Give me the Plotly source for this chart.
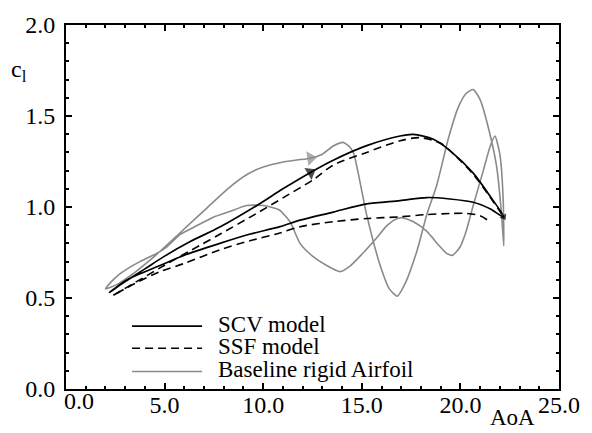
import plotly.graph_objects as go

# SCV model: upstroke (upper branch) and downstroke (lower branch)
scv_up_aoa = [2.2, 3.0, 4.0, 5.0, 6.3, 7.8, 9.7, 11.0, 12.4, 13.55, 15.25, 16.94, 17.6, 18.63, 19.47, 20.65, 21.5, 22.2]
scv_up_cl = [0.53, 0.59, 0.66, 0.73, 0.81, 0.89, 1.01, 1.10, 1.19, 1.257, 1.337, 1.39, 1.399, 1.372, 1.31, 1.186, 1.06, 0.945]
scv_dn_aoa = [22.2, 21.5, 20.65, 19.47, 18.3, 16.94, 15.25, 13.55, 11.87, 10.85, 9.3, 7.8, 6.0, 4.8, 3.1, 2.2]
scv_dn_cl = [0.945, 0.99, 1.026, 1.044, 1.052, 1.035, 1.017, 0.972, 0.928, 0.892, 0.85, 0.80, 0.735, 0.68, 0.60, 0.53]

# SSF model
ssf_up_aoa = [2.4, 3.5, 5.0, 6.8, 7.8, 9.67, 11.0, 12.54, 13.55, 15.25, 16.94, 17.95, 19.0, 19.8, 20.65, 21.5, 22.2]
ssf_up_cl = [0.515, 0.585, 0.68, 0.79, 0.85, 0.965, 1.05, 1.15, 1.23, 1.30, 1.364, 1.381, 1.35, 1.275, 1.18, 1.055, 0.945]
ssf_dn_aoa = [21.35, 21.0, 20.3, 19.47, 18.2, 16.94, 15.25, 13.55, 11.87, 10.85, 9.33, 7.8, 6.0, 4.77, 3.5, 2.4]
ssf_dn_cl = [0.93, 0.952, 0.965, 0.964, 0.958, 0.946, 0.937, 0.919, 0.892, 0.857, 0.815, 0.765, 0.69, 0.645, 0.58, 0.515]

# Baseline rigid airfoil: one full pitching cycle
base_aoa = [2.0, 2.6, 3.3, 4.0, 4.6, 5.8, 7.1, 8.2, 9.2, 10.0, 10.9, 11.7, 12.4, 13.0, 13.55, 14.05, 14.4, 14.6,
            15.25, 15.9, 16.4, 16.8, 17.2, 17.8, 18.3, 18.8, 19.4, 19.9, 20.3, 20.65, 21.0, 21.5, 21.84, 22.09, 22.2,
            22.17, 22.0, 21.75, 21.5, 21.16, 20.65, 20.3, 19.98, 19.6, 19.3, 18.9, 18.3, 17.6, 17.1, 16.8, 16.3,
            15.75, 15.0, 14.4, 13.9, 13.2, 12.5, 11.87, 11.36, 10.8, 10.0, 9.16, 8.3, 7.47, 6.5, 5.8, 5.1, 4.6,
            3.75, 3.25, 2.7, 2.3, 2.0]
base_cl = [0.55, 0.575, 0.625, 0.685, 0.74, 0.86, 0.99, 1.10, 1.18, 1.22, 1.245, 1.258, 1.268, 1.29, 1.335, 1.355, 1.328, 1.29,
           0.955, 0.69, 0.55, 0.51, 0.58, 0.76, 0.96, 1.12, 1.38, 1.55, 1.625, 1.645, 1.59, 1.40, 1.22, 0.955, 0.786,
           1.04, 1.29, 1.39, 1.33, 1.20, 1.008, 0.87, 0.78, 0.735, 0.745, 0.79, 0.866, 0.92, 0.94, 0.937, 0.90,
           0.83, 0.74, 0.675, 0.645, 0.68, 0.73, 0.80, 0.919, 0.985, 1.008, 1.008, 0.975, 0.944, 0.89, 0.85, 0.78, 0.745,
           0.70, 0.67, 0.63, 0.59, 0.55]

legend_labels = ["SCV model", "SSF model", "Baseline rigid Airfoil"]
x_tick_vals = [5, 10, 15, 20, 25]
y_tick_vals = [0.0, 0.5, 1.0, 1.5, 2.0]

BLACK = "#000000"
GRAY = "#8a8a8a"
FONT = "Liberation Serif"

fig = go.Figure()

# Draw the loops
fig.add_trace(go.Scatter(x=base_aoa, y=base_cl, mode="lines",
                         line=dict(color=GRAY, width=1.6, shape="spline", smoothing=0.6)))
fig.add_trace(go.Scatter(x=scv_up_aoa + scv_dn_aoa[1:], y=scv_up_cl + scv_dn_cl[1:], mode="lines",
                         line=dict(color=BLACK, width=1.7, shape="spline", smoothing=0.8)))
fig.add_trace(go.Scatter(x=ssf_up_aoa, y=ssf_up_cl, mode="lines",
                         line=dict(color=BLACK, width=1.6, dash="8px,5px", shape="spline", smoothing=0.8)))
fig.add_trace(go.Scatter(x=ssf_dn_aoa, y=ssf_dn_cl, mode="lines",
                         line=dict(color=BLACK, width=1.6, dash="8px,5px", shape="spline", smoothing=0.8)))


# Direction arrows: a marker oriented along the segment ending at the given index
def arrow(xs, ys, i, color, size):
    fig.add_trace(go.Scatter(x=[xs[i - 1], xs[i]], y=[ys[i - 1], ys[i]], mode="markers",
                             marker=dict(symbol="triangle-up", size=[0, size], color=color,
                                         angleref="previous", line=dict(width=0))))


arrow(base_aoa, base_cl, 12, GRAY, 13)
arrow(scv_up_aoa, scv_up_cl, 8, BLACK, 12)
arrow(scv_up_aoa, scv_up_cl, 17, BLACK, 7)

tick_font = dict(family=FONT, size=24, color=BLACK)
label_font = dict(family=FONT, size=23, color=BLACK)
axis_common = dict(showline=True, linecolor=BLACK, linewidth=2, mirror="ticks",
                   ticks="inside", ticklen=6, tickwidth=1.5, tickcolor=BLACK,
                   showgrid=False, zeroline=False, tickfont=tick_font)

fig.update_xaxes(range=[0, 25], tickvals=x_tick_vals, tickformat=".1f",
                 minor=dict(ticks="inside", ticklen=3, tickwidth=1.5, tickcolor=BLACK, dtick=1, tick0=0),
                 ticklabelstandoff=-7, **axis_common)
fig.update_yaxes(range=[0, 2], tickvals=y_tick_vals, tickformat=".1f",
                 minor=dict(ticks="inside", ticklen=3, tickwidth=1.5, tickcolor=BLACK, dtick=0.1, tick0=0),
                 ticklabelstandoff=4, **axis_common)

annotations = [
    dict(text="0.0", x=0, y=0, xref="x", yref="paper", xanchor="left", yanchor="top",
         xshift=-4, yshift=3, showarrow=False, font=tick_font),
    dict(text="c<sub>l</sub>", x=-0.095, y=0.875, xref="paper", yref="paper", xanchor="center", yanchor="middle",
         showarrow=False, font=tick_font),
    dict(text="AoA", x=0.905, y=-0.117, xref="paper", yref="paper", xanchor="center", yanchor="bottom",
         showarrow=False, font=label_font),
]

# Legend drawn inside the plot area
legend_rows = [(BLACK, "solid", 0.173), (BLACK, "8px,5px", 0.112), (GRAY, "solid", 0.048)]
shapes = []
for (color, dash, yy), label in zip(legend_rows, legend_labels):
    shapes.append(dict(type="line", xref="paper", yref="paper", x0=0.134, x1=0.276, y0=yy, y1=yy,
                       line=dict(color=color, width=1.7 if color == BLACK else 1.6, dash=dash)))
    annotations.append(dict(text=label, x=0.304, y=yy, xref="paper", yref="paper", xanchor="left",
                            yanchor="middle", yshift=2, showarrow=False, font=label_font))

fig.update_layout(width=592, height=433, margin=dict(l=66, r=33, t=14, b=44),
                  paper_bgcolor="white", plot_bgcolor="white", showlegend=False,
                  shapes=shapes, annotations=annotations)

fig.write_html("out.html")
